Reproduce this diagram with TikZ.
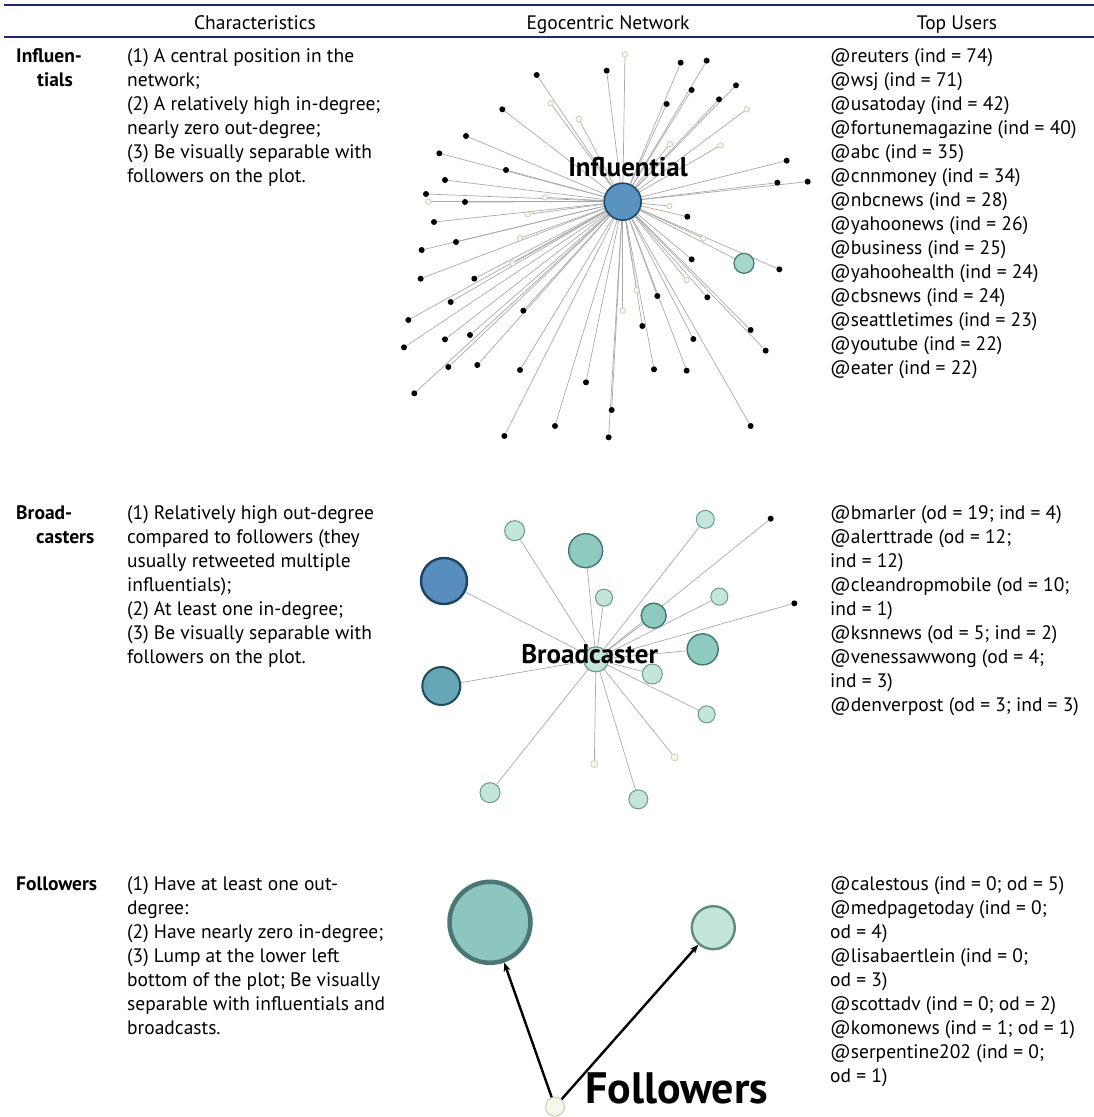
\documentclass[tikz,border=0pt]{standalone}
\usepackage{fontspec}
\setmainfont{PT Sans}
\usetikzlibrary{arrows.meta}
\pgfdeclarelayer{back}
\pgfdeclarelayer{bg}
\pgfsetlayers{back,bg,main}
\definecolor{rulecol}{RGB}{34,40,112}
\definecolor{edgecol}{RGB}{170,170,170}
\definecolor{inflfill}{RGB}{90,146,192}
\definecolor{inflline}{RGB}{28,72,104}
\definecolor{darkbfill}{RGB}{88,142,190}
\definecolor{darkbline}{RGB}{30,68,100}
\definecolor{tbfill}{RGB}{102,166,182}
\definecolor{tbline}{RGB}{30,76,90}
\definecolor{medfill}{RGB}{142,202,192}
\definecolor{medline}{RGB}{62,120,110}
\definecolor{ltfill}{RGB}{196,229,219}
\definecolor{ltline}{RGB}{106,154,142}
\definecolor{opfill}{RGB}{246,248,236}
\definecolor{opline}{RGB}{196,206,178}
\definecolor{fbigfill}{RGB}{140,198,191}
\definecolor{fbigline}{RGB}{74,118,116}
\newcommand{\topstrut}{\rule{0pt}{18pt}}
\tikzset{
  body/.style={font=\fontsize{19.5}{24}\selectfont, align=left, anchor=north west, inner sep=0pt},
  rowlabel/.style={font=\fontsize{19.5}{24}\selectfont\bfseries, align=left, anchor=north west, inner sep=0pt},
  head/.style={font=\fontsize{19.5}{24}\selectfont, anchor=base, inner sep=0pt},
  edge/.style={draw=edgecol, line width=0.7pt},
  bdot/.style={circle, fill=black, inner sep=0pt, minimum size=6pt},
  odot/.style={circle, fill=opfill, draw=opline, line width=0.7pt, inner sep=0pt, minimum size=5.5pt},
  ltnode/.style={circle, fill=ltfill, draw=ltline, line width=1pt, inner sep=0pt},
  mednode/.style={circle, fill=medfill, draw=medline, line width=1.4pt, inner sep=0pt},
  netlabel/.style={font=\fontsize{27}{27}\selectfont\bfseries, anchor=base, inner sep=0pt},
  arr/.style={draw=black, line width=2.4pt, -{Stealth[length=9pt,width=7pt]}}
}
\begin{document}
\begin{tikzpicture}[x=1pt,y=-1pt]
\useasboundingbox (0,0) rectangle (1094,1117);
\begin{pgfonlayer}{back}
\fill[white] (0,0) rectangle (1094,1117);
\end{pgfonlayer}
% rules
\coordinate (r1a) at (4,5); \coordinate (r1b) at (1094,5);
\coordinate (r2a) at (4,37); \coordinate (r2b) at (1094,37);
\draw[rulecol, line width=2.6pt] (r1a) -- (r1b);
\draw[rulecol, line width=2.4pt] (r2a) -- (r2b);
% header
\node[head] (h1) at (255,29.3) {Characteristics};
\node[head] (h2) at (608,29.3) {Egocentric Network};
\node[head] (h3) at (957,29.3) {Top Users};
% row 1
\node[rowlabel] (l1) at (16,44) {\topstrut Influen-\\\hspace*{21pt}tials};
\node[body] (c1) at (127,44) {\topstrut(1) A central position in the\\network;\\(2) A relatively high in-degree;\\nearly zero out-degree;\\(3) Be visually separable with\\followers on the plot.};
\node[body] (u1) at (830,44) {\topstrut@reuters (ind = 74)\\@wsj (ind = 71)\\@usatoday (ind = 42)\\@fortunemagazine (ind = 40)\\@abc (ind = 35)\\@cnnmoney (ind = 34)\\@nbcnews (ind = 28)\\@yahoonews (ind = 26)\\@business (ind = 25)\\@yahoohealth (ind = 24)\\@cbsnews (ind = 24)\\@seattletimes (ind = 23)\\@youtube (ind = 22)\\@eater (ind = 22)};
% row 2
\node[rowlabel] (l2) at (16,501) {\topstrut Broad-\\\hspace*{20pt}casters};
\node[body] (c2) at (127,501) {\topstrut(1) Relatively high out-degree\\compared to followers (they\\usually retweeted multiple\\influentials);\\(2) At least one in-degree;\\(3) Be visually separable with\\followers on the plot.};
\node[body] (u2) at (830,501) {\topstrut@bmarler (od = 19; ind = 4)\\@alerttrade (od = 12;\\ind = 12)\\@cleandropmobile (od = 10;\\ind = 1)\\@ksnnews (od = 5; ind = 2)\\@venessawwong (od = 4;\\ind = 3)\\@denverpost (od = 3; ind = 3)};
% row 3
\node[rowlabel] (l3) at (16,872) {\topstrut Followers};
\node[body] (c3) at (127,872) {\topstrut(1) Have at least one out-\\degree:\\(2) Have nearly zero in-degree;\\(3) Lump at the lower left\\bottom of the plot; Be visually\\separable with influentials and\\broadcasts.};
\node[body] (u3) at (830,872) {\topstrut@calestous (ind = 0; od = 5)\\@medpagetoday (ind = 0;\\od = 4)\\@lisabaertlein (ind = 0;\\od = 3)\\@scottadv (ind = 0; od = 2)\\@komonews (ind = 1; od = 1)\\@serpentine202 (ind = 0;\\od = 1)};

% network 1: influential
\begin{scope}[shift={(380,20)}, x=0.333333pt, y=-0.333333pt]
\node[circle, fill=inflfill, draw=inflline, line width=1.6pt, inner sep=0pt, minimum size=37pt] (i0) at (728,545) {};
\node[circle, fill=medfill!80!white, draw=medline, line width=1.2pt, inner sep=0pt, minimum size=20pt] (it) at (1092,730) {};
\foreach \p [count=\k] in {(470,165),(680,152),(902,128),(980,122),(935,210),(1068,196),(860,252),(1017,238),(367,268),(258,348),(178,400),(378,450),(195,480),(138,522),(255,546),(162,606),(228,666),(125,690),(122,776),(283,776),(212,846),(85,900),(430,872),(72,982),(195,958),(270,945),(205,1041),(292,1035),(420,1050),(103,1120),(618,1087),(695,1170),(525,1218),(373,1248),(686,1252),(822,1048),(920,1052),(940,957),(787,918),(832,828),(982,832),(1112,930),(1157,992),(1112,1218),(935,718),(922,590),(1220,422),(1192,488),(1283,485),(1198,748)}
  \node[bdot] (ib\k) at \p {};
\foreach \p [count=\k] in {(735,103),(512,250),(596,297),(1100,268),(1022,376),(870,372),(495,532),(145,545),(443,583),(420,655),(398,730),(868,558),(970,655),(920,780),(770,810),(728,872)}
  \node[odot] (io\k) at \p {};
\begin{pgfonlayer}{bg}
\foreach \k in {1,...,50} \draw[edge] (i0) -- (ib\k);
\foreach \k in {1,...,16} \draw[edge] (i0) -- (io\k);
\draw[edge] (i0) -- (it);
\end{pgfonlayer}
\node[netlabel] (il) at (744,470) {Influential};
\end{scope}

% network 2: broadcaster
\begin{scope}[shift={(380,470)}, x=0.333333pt, y=-0.333333pt]
\node[ltnode, minimum size=25pt, line width=1.2pt] (b0) at (648,568) {};
\node[circle, fill=darkbfill, draw=darkbline, line width=2.4pt, inner sep=0pt, minimum size=46pt] (bA) at (192,333) {};
\node[circle, fill=tbfill, draw=tbline, line width=2pt, inner sep=0pt, minimum size=38pt] (bB) at (184,648) {};
\node[ltnode, minimum size=20pt] (bl1) at (404,182) {};
\node[mednode, minimum size=34pt] (bm1) at (617,242) {};
\node[ltnode, minimum size=18pt] (bl2) at (976,148) {};
\node[bdot] (bk1) at (1172,146) {};
\node[ltnode, minimum size=17pt] (bl3) at (672,383) {};
\node[ltnode, minimum size=17pt] (bl4) at (1018,380) {};
\node[bdot] (bk2) at (1243,400) {};
\node[mednode, minimum size=25pt] (bm2) at (821,437) {};
\node[mednode, minimum size=31pt] (bm3) at (968,538) {};
\node[ltnode, minimum size=20pt] (bl5) at (817,612) {};
\node[ltnode, minimum size=17pt] (bl6) at (980,733) {};
\node[odot, minimum size=7pt] (bo1) at (884,862) {};
\node[odot, minimum size=7pt] (bo2) at (643,882) {};
\node[ltnode, minimum size=20pt] (bl7) at (330,968) {};
\node[ltnode, minimum size=19pt] (bl8) at (775,988) {};
\begin{pgfonlayer}{bg}
\foreach \n in {bA,bB,bl1,bm1,bl2,bk1,bl3,bl4,bk2,bm2,bm3,bl5,bl6,bo1,bo2,bl7,bl8}
  \draw[edge] (b0) -- (\n);
\end{pgfonlayer}
\node[netlabel] (bl) at (629,580) {Broadcaster};
\end{scope}

% network 3: followers
\node[circle, fill=fbigfill, draw=fbigline, line width=4.5pt, inner sep=0pt, minimum size=81pt] (f1) at (490,922.3) {};
\node[circle, fill=ltfill, draw=ltline!90!black, line width=2.4pt, inner sep=0pt, minimum size=43pt] (f2) at (713.3,927.7) {};
\node[circle, fill=opfill, draw=opline, line width=1pt, inner sep=0pt, minimum size=19pt] (f0) at (555,1106.7) {};
\draw[arr] (f0) -- (f1);
\draw[arr] (f0) -- (f2);
\node[netlabel, font=\fontsize{44}{44}\selectfont\bfseries] (fl) at (676.7,1103.3) {Followers};
\end{tikzpicture}
\end{document}
